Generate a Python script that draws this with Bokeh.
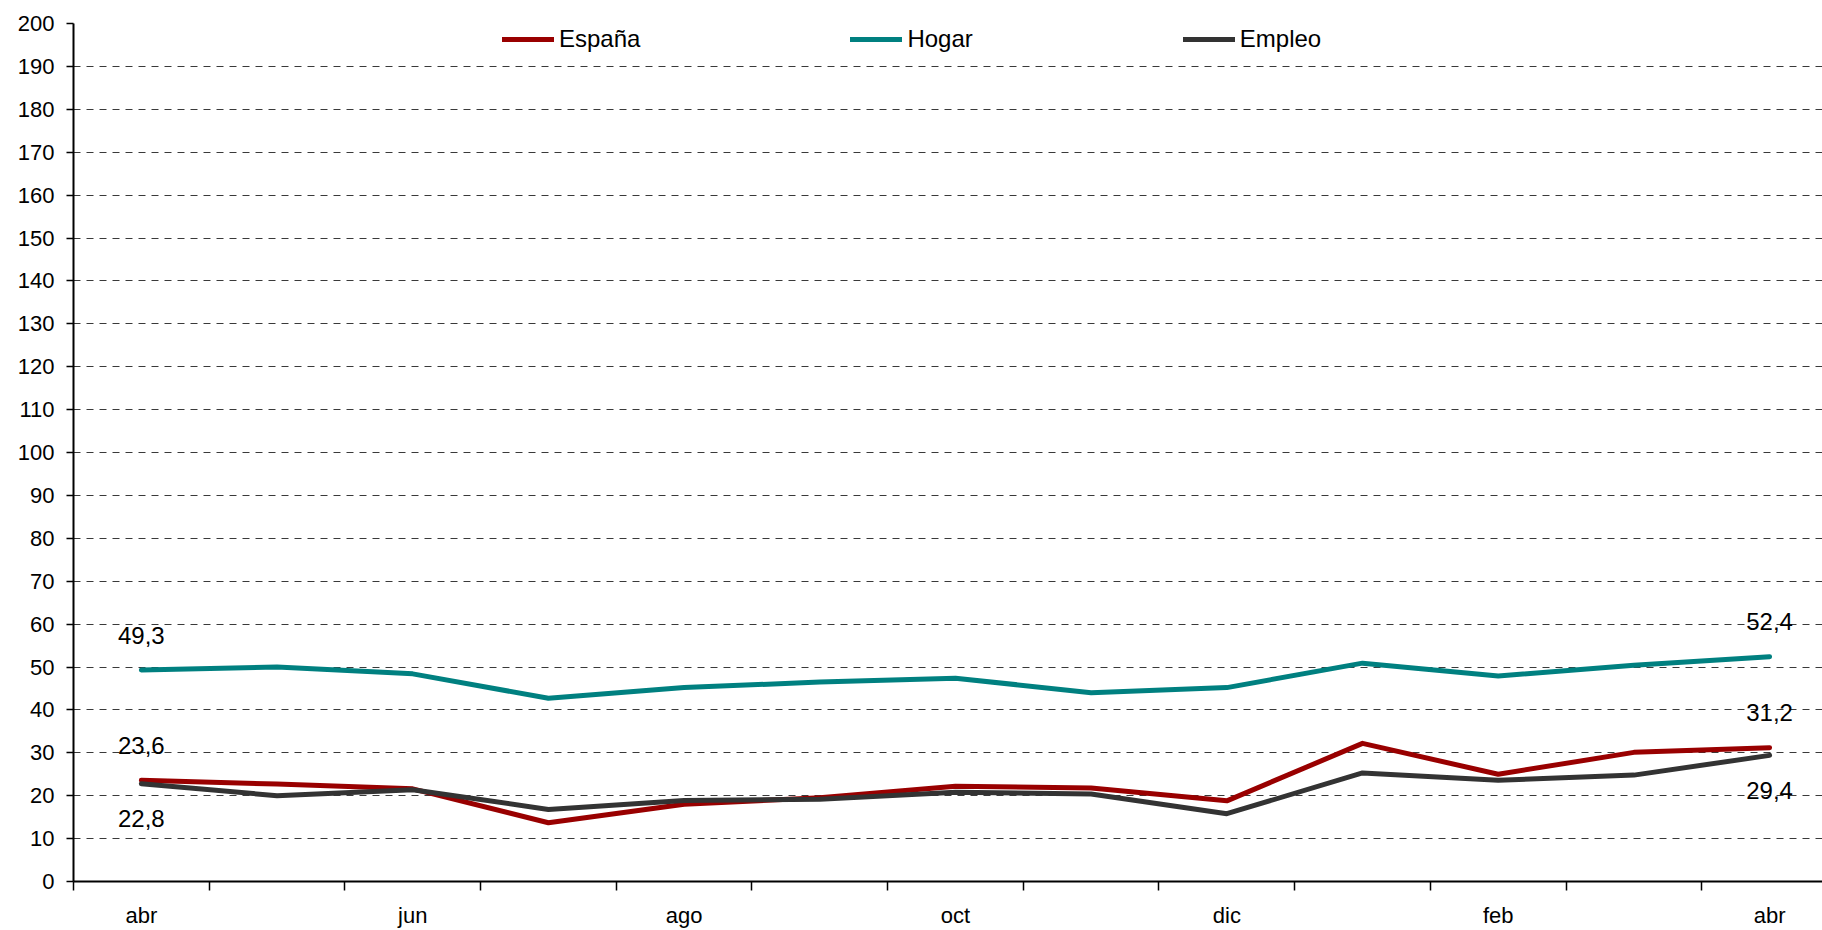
from bokeh.plotting import figure
from bokeh.models import (FixedTicker, Legend, LegendItem, BoxAnnotation,
                          ColumnDataSource)
from bokeh.core.properties import value
from bokeh.embed import file_html
from bokeh.resources import INLINE

# ---------------- data ----------------
months = ["abr", "may", "jun", "jul", "ago", "sep", "oct", "nov", "dic",
          "ene", "feb", "mar", "abr"]
espana = [23.6, 22.7, 21.6, 13.7, 18.0, 19.5, 22.2, 21.8, 18.8, 32.2, 25.0, 30.1, 31.2]
hogar = [49.3, 50.0, 48.4, 42.7, 45.2, 46.5, 47.4, 44.0, 45.2, 50.9, 47.9, 50.4, 52.4]
empleo = [22.8, 20.0, 21.4, 16.8, 18.9, 19.2, 20.8, 20.4, 15.8, 25.3, 23.6, 24.8, 29.4]
series_names = ["España", "Hogar", "Empleo"]
y_ticks = list(range(0, 201, 10))

FONT = "Liberation Sans"
colors = ["#990000", "#008080", "#333333"]

xs = [i + 0.5 for i in range(len(months))]

p = figure(width=1822, height=930, output_backend="svg", toolbar_location=None,
           x_range=(0, 12.89), y_range=(0, 200),
           min_border_left=73, min_border_right=0, min_border_top=23,
           min_border_bottom=46)
p.outline_line_color = None
p.background_fill_color = "white"

# grid
p.xgrid.visible = False
p.ygrid.ticker = FixedTicker(ticks=y_ticks)
p.ygrid.grid_line_color = "#3a3a3a"
p.ygrid.grid_line_width = 1
p.ygrid.grid_line_dash = "7 6"

# y axis
p.yaxis.ticker = FixedTicker(ticks=y_ticks)
p.yaxis.axis_line_color = "black"
p.yaxis.axis_line_width = 2
p.yaxis.major_tick_out = 7
p.yaxis.major_tick_in = 0
p.yaxis.major_tick_line_width = 1.5
p.yaxis.minor_tick_line_color = None
p.yaxis.major_label_standoff = 12
p.yaxis.major_label_text_font = FONT
p.yaxis.major_label_text_font_size = "22px"
p.yaxis.major_label_text_color = "black"

# x axis: labels at every other category centre, ticks at category boundaries
label_pos = [xs[i] for i in range(0, len(months), 2)]
p.xaxis.ticker = FixedTicker(ticks=label_pos,
                             minor_ticks=list(range(0, len(months) + 1)))
p.xaxis.major_label_overrides = {xs[i]: months[i] for i in range(0, len(months), 2)}
p.xaxis.axis_line_color = "black"
p.xaxis.axis_line_width = 2
p.xaxis.major_tick_out = 0
p.xaxis.major_tick_in = 0
p.xaxis.minor_tick_out = 9
p.xaxis.minor_tick_in = 0
p.xaxis.minor_tick_line_color = "black"
p.xaxis.minor_tick_line_width = 1.5
p.xaxis.major_label_standoff = 12
p.xaxis.major_label_text_font = FONT
p.xaxis.major_label_text_font_size = "22px"
p.xaxis.major_label_text_color = "black"

# white patch behind legend hiding part of the top grid line
p.add_layout(BoxAnnotation(left=2.34, right=9.98, bottom=196.5, top=205,
                           fill_color="white", fill_alpha=1, line_color=None,
                           level="glyph"))

renderers = []
for vals, col in zip([espana, hogar, empleo], colors):
    r = p.line(xs, vals, line_color=col, line_width=5, line_join="round",
               line_cap="round")
    renderers.append(r)

# data labels for first and last points
lab_x, lab_y, lab_t, lab_off = [], [], [], []
for vals, off in zip([espana, hogar, empleo], [-35, -35, 35]):
    for idx in (0, len(vals) - 1):
        lab_x.append(xs[idx])
        lab_y.append(vals[idx])
        lab_t.append(f"{vals[idx]:.1f}".replace(".", ","))
        lab_off.append(off)
src = ColumnDataSource(dict(x=lab_x, y=lab_y, t=lab_t, off=lab_off))
p.text(x="x", y="y", text="t", y_offset="off", source=src,
       text_align="center", text_baseline="middle",
       text_font=value(FONT), text_font_size="24px", text_color="black")

legend = Legend(items=[LegendItem(label=n, renderers=[r])
                       for n, r in zip(series_names, renderers)],
                orientation="horizontal", location=(429, 828),
                padding=0, margin=0, spacing=210,
                glyph_width=52, glyph_height=26, label_height=26,
                label_standoff=5,
                label_text_font=FONT, label_text_font_size="24px",
                label_text_color="black",
                border_line_color=None, background_fill_alpha=0)
p.add_layout(legend, "center")

open("out.html", "w").write(file_html(p, INLINE))
